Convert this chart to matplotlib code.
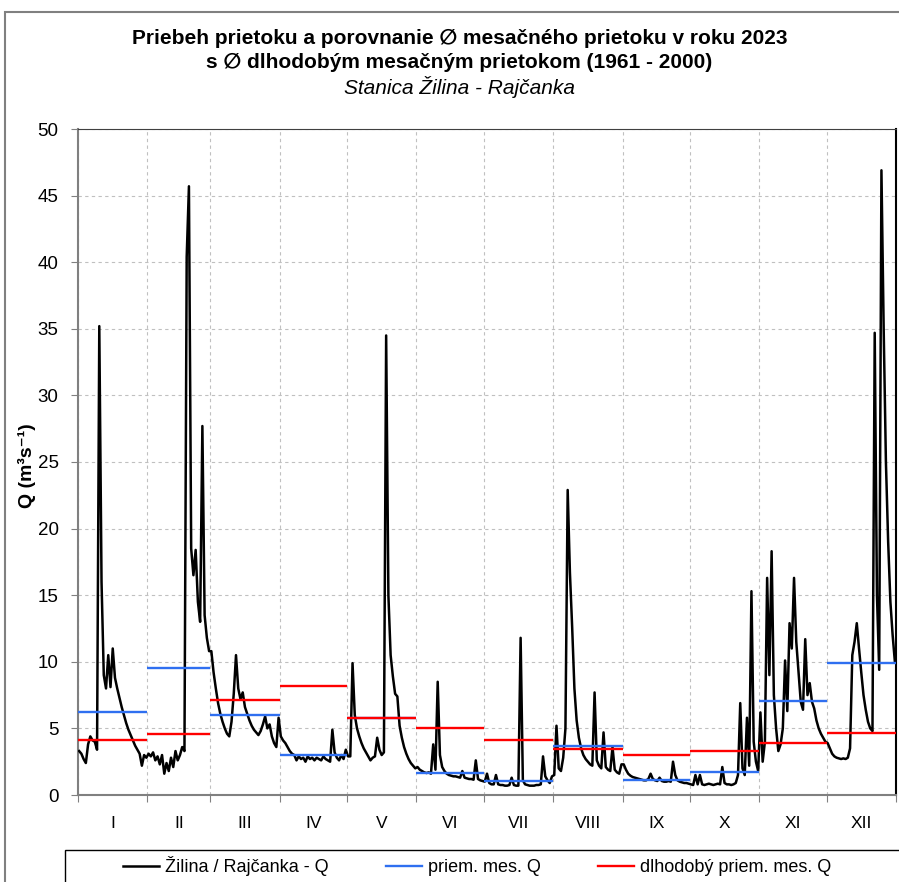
import numpy as np
import matplotlib
matplotlib.use("Agg")
import matplotlib.pyplot as plt
from matplotlib.patches import Rectangle

plt.rcParams['font.family'] = ['Liberation Sans', 'DejaVu Sans']

months = ['I', 'II', 'III', 'IV', 'V', 'VI', 'VII', 'VIII', 'IX', 'X', 'XI', 'XII']
days_in_month = [31, 28, 31, 30, 31, 30, 31, 31, 30, 31, 30, 31]

# daily discharge Q (m3/s)
q_jan = [3.3, 3.1, 2.7, 2.4, 3.8, 4.4, 4.1, 4.0, 3.4, 35.2, 16.0, 9.0, 8.0, 10.5, 8.1, 11.0,
         8.8, 8.0, 7.3, 6.6, 6.0, 5.4, 4.9, 4.5, 4.1, 3.7, 3.4, 3.1, 2.2, 3.0, 2.8]
q_feb = [3.1, 2.9, 3.2, 2.6, 2.9, 2.3, 3.0, 1.6, 2.4, 1.8, 2.8, 2.1, 3.3, 2.6, 3.0, 3.6,
         3.3, 40.4, 45.7, 18.5, 16.5, 18.4, 14.5, 13.0, 27.7, 13.5, 11.8, 10.8]
q_mar = [10.8, 9.2, 8.0, 6.9, 6.1, 5.5, 5.0, 4.6, 4.4, 5.5, 7.6, 10.5, 8.0, 7.2, 7.7, 6.6,
         6.1, 5.6, 5.2, 4.9, 4.7, 4.5, 4.8, 5.3, 5.9, 5.0, 5.3, 4.4, 3.9, 3.6, 5.8]
q_apr = [4.4, 4.1, 3.9, 3.6, 3.3, 3.1, 3.0, 2.6, 2.9, 2.7, 2.8, 2.5, 2.9, 2.7, 2.8, 2.6,
         2.8, 2.7, 2.6, 2.9, 2.7, 2.6, 2.5, 4.9, 3.2, 2.8, 2.6, 3.0, 2.7, 3.4]
q_may = [2.9, 2.9, 9.9, 6.0, 5.0, 4.4, 3.9, 3.5, 3.2, 2.9, 2.6, 2.8, 2.9, 4.3, 3.4, 3.0,
         3.2, 34.5, 15.0, 10.5, 8.9, 7.6, 7.4, 5.2, 4.3, 3.6, 3.1, 2.7, 2.4, 2.2, 2.0]
q_jun = [2.1, 1.9, 1.8, 1.7, 1.65, 1.7, 1.6, 3.8, 1.9, 8.5, 3.0, 2.1, 1.8, 1.6, 1.5, 1.45,
         1.4, 1.4, 1.35, 1.3, 1.8, 1.3, 1.25, 1.2, 1.2, 1.15, 2.6, 1.2, 1.1, 1.05]
q_jul = [1.0, 1.6, 0.9, 0.8, 0.8, 1.5, 0.8, 0.75, 0.75, 0.7, 0.7, 0.75, 1.3, 0.75, 0.7, 0.7,
         11.8, 1.1, 0.8, 0.75, 0.7, 0.7, 0.7, 0.75, 0.75, 0.8, 2.9, 1.4, 1.1, 0.9, 1.4]
q_aug = [1.5, 5.2, 2.0, 1.8, 2.8, 5.0, 22.9, 16.7, 12.6, 8.0, 5.6, 4.3, 3.5, 3.0, 2.7, 2.5,
         2.3, 2.2, 7.7, 2.6, 2.2, 2.0, 4.7, 2.1, 1.9, 1.8, 3.6, 1.9, 1.7, 1.6, 2.3]
q_sep = [2.3, 1.9, 1.6, 1.45, 1.35, 1.3, 1.25, 1.2, 1.15, 1.1, 1.1, 1.2, 1.6, 1.2, 1.1, 1.05,
         1.3, 1.05, 1.0, 1.0, 1.05, 1.0, 2.5, 1.5, 1.1, 1.0, 0.95, 0.9, 0.9, 0.85]
q_oct = [0.8, 0.75, 1.5, 0.8, 1.5, 0.8, 0.75, 0.8, 0.85, 0.8, 0.75, 0.8, 0.85, 0.8, 2.1, 0.9,
         0.8, 0.8, 0.75, 0.8, 0.9, 1.5, 6.9, 2.0, 1.5, 5.8, 2.2, 15.3, 4.0, 2.5, 1.8]
q_nov = [6.2, 2.5, 4.0, 16.3, 9.0, 18.3, 7.5, 5.0, 3.3, 3.8, 5.0, 10.1, 6.3, 12.9, 11.0, 16.3,
         11.5, 9.2, 7.0, 6.4, 11.7, 7.5, 8.4, 7.0, 6.5, 5.6, 5.0, 4.6, 4.3, 4.0]
q_dec = [3.9, 3.5, 3.1, 2.9, 2.8, 2.75, 2.7, 2.75, 2.7, 2.8, 3.5, 10.5, 11.5, 12.9, 11.0, 9.2,
         7.5, 6.4, 5.5, 5.0, 4.8, 34.7, 15.0, 9.4, 46.9, 35.0, 25.0, 19.0, 14.5, 12.0, 10.0]

monthly_mean = [6.2, 9.5, 6.0, 3.0, 5.75, 1.67, 1.05, 3.68, 1.09, 1.72, 7.08, 9.92]
longterm_mean = [4.1, 4.6, 7.1, 8.2, 5.8, 5.03, 4.15, 3.43, 3.03, 3.27, 3.9, 4.62]

q = np.concatenate([q_jan, q_feb, q_mar, q_apr, q_may, q_jun,
                    q_jul, q_aug, q_sep, q_oct, q_nov, q_dec])
days = np.arange(len(q)) + 0.5
bounds = np.concatenate([[0], np.cumsum(days_in_month)])

fig = plt.figure(figsize=(8.99, 8.82), dpi=100)
ax = fig.add_axes([78 / 899, 1 - 795 / 882, (896 - 78) / 899, (795 - 129) / 882])

ax.plot(days, q, color='black', lw=1.8, zorder=3)
ax.hlines(monthly_mean, bounds[:-1], bounds[1:], color='#2f6ff0', lw=1.7, zorder=4)
ax.hlines(longterm_mean, bounds[:-1], bounds[1:], color='#ff0000', lw=1.7, zorder=5)

ax.set_xlim(0, 365)
ax.set_ylim(0, 50)
ax.set_yticks(range(0, 51, 5))
ax.set_xticks(bounds)
ax.set_xticklabels([])
ax.set_xticks((bounds[:-1] + bounds[1:]) / 2, minor=True)
ax.set_xticklabels(months, minor=True)
ax.tick_params(axis='x', which='minor', length=0, pad=15, labelsize=12.5)
ax.tick_params(axis='x', which='major', length=5, color='#808080')
ax.tick_params(axis='y', labelsize=13.5, length=5, color='#808080', pad=9)
ax.grid(True, which='major', color='#c0c0c0', ls=(0, (3, 3)), lw=0.8)
ax.set_axisbelow(True)

for side in ['left', 'bottom']:
    ax.spines[side].set_color('#808080')
    ax.spines[side].set_linewidth(1.5)
ax.spines['top'].set_color('#404040')
ax.spines['right'].set_color('black')
ax.spines['right'].set_linewidth(1.5)

ax.set_ylabel('Q (m³s⁻¹)', fontsize=14, fontweight='bold')
ax.yaxis.set_label_coords(-0.051, 0.494)

fig.text(0.511, 1 - 38 / 882, 'Priebeh prietoku a porovnanie ∅ mesačného prietoku v roku 2023',
         ha='center', va='center', fontsize=15, fontweight='bold')
fig.text(0.511, 1 - 62 / 882, 's ∅ dlhodobým mesačným prietokom (1961 - 2000)',
         ha='center', va='center', fontsize=15, fontweight='bold')
fig.text(0.511, 1 - 87 / 882, 'Stanica Žilina - Rajčanka',
         ha='center', va='center', fontsize=15, fontstyle='italic')

# legend
h1 = plt.Line2D([], [], color='black', lw=1.8)
h2 = plt.Line2D([], [], color='#2f6ff0', lw=1.7)
h3 = plt.Line2D([], [], color='#ff0000', lw=1.7)
fig.legend([h1, h2, h3], ['Žilina / Rajčanka - Q', 'priem. mes. Q', 'dlhodobý priem. mes. Q'],
           loc='center', bbox_to_anchor=(477 / 899, 1 - 866 / 882), ncol=3, frameon=False,
           fontsize=13, handlelength=2.0, handletextpad=0.3, columnspacing=3.2)
fig.add_artist(Rectangle((65 / 899, -0.05), 1.0, 0.05 + (882 - 850) / 882,
                         transform=fig.transFigure, fill=False, edgecolor='black', lw=1))
# chart area border
fig.add_artist(Rectangle((5 / 899, -0.1), 1.2, 0.1 + 1 - 12 / 882,
                         transform=fig.transFigure, fill=False, edgecolor='#808080', lw=1.5))

fig.savefig('out.png', dpi=100)
